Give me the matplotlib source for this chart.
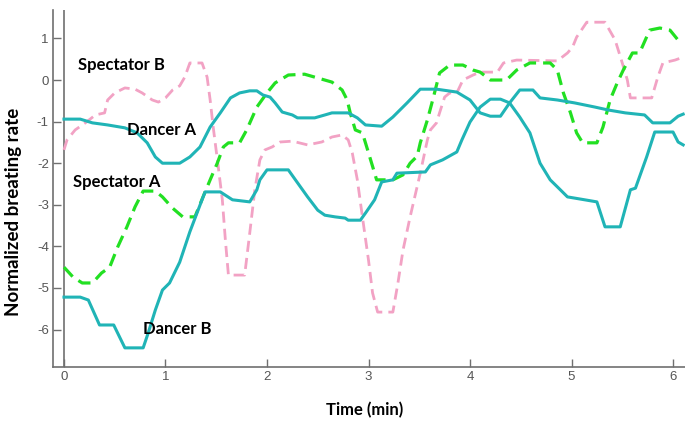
import matplotlib.pyplot as plt

# Time (min) and normalized breathing rate for each trace
t_dancer_a = [0.00, 0.16, 0.28, 0.43, 0.60, 0.72, 0.82, 0.90, 0.97, 1.14, 1.24, 1.34, 1.44, 1.54,
              1.64, 1.73, 1.83, 1.90, 1.96, 2.03, 2.08, 2.15, 2.25, 2.30, 2.47, 2.57, 2.64, 2.80,
              2.89, 2.97, 3.13, 3.24, 3.38, 3.51, 3.67, 3.87, 4.00, 4.10, 4.20, 4.30, 4.39, 4.49,
              4.62, 4.69, 4.86, 5.03, 5.23, 5.36, 5.53, 5.72, 5.80, 5.97, 6.05, 6.10]
v_dancer_a = [-0.94, -0.94, -1.03, -1.08, -1.15, -1.27, -1.51, -1.85, -2.00, -2.00, -1.85, -1.61,
              -1.13, -0.79, -0.43, -0.31, -0.26, -0.26, -0.36, -0.41, -0.55, -0.77, -0.84, -0.91,
              -0.91, -0.84, -0.79, -0.79, -0.91, -1.08, -1.11, -0.89, -0.55, -0.22, -0.22, -0.29,
              -0.48, -0.79, -0.87, -0.87, -0.55, -0.24, -0.24, -0.43, -0.48, -0.55, -0.65, -0.72,
              -0.79, -0.84, -1.03, -1.03, -0.87, -0.82]

t_dancer_b = [0.00, 0.16, 0.24, 0.35, 0.49, 0.60, 0.78, 0.83, 0.90, 0.97, 1.04, 1.14, 1.24, 1.31,
              1.36, 1.39, 1.54, 1.66, 1.83, 1.90, 1.93, 2.00, 2.21, 2.28, 2.40, 2.50, 2.57, 2.67,
              2.77, 2.80, 2.92, 2.97, 3.06, 3.13, 3.24, 3.28, 3.56, 3.61, 3.73, 3.87, 3.92, 4.00,
              4.10, 4.20, 4.30, 4.39, 4.49, 4.59, 4.69, 4.79, 4.89, 4.96, 5.13, 5.25, 5.33, 5.48,
              5.58, 5.63, 5.74, 5.82, 6.00, 6.05, 6.10]
v_dancer_b = [-5.22, -5.22, -5.29, -5.89, -5.89, -6.44, -6.44, -6.08, -5.53, -5.05, -4.88, -4.38,
              -3.65, -3.20, -2.88, -2.69, -2.69, -2.88, -2.93, -2.64, -2.40, -2.16, -2.16, -2.40,
              -2.81, -3.13, -3.25, -3.29, -3.32, -3.37, -3.37, -3.20, -2.88, -2.45, -2.40, -2.24,
              -2.21, -2.04, -1.92, -1.73, -1.44, -1.01, -0.65, -0.46, -0.46, -0.55, -0.89, -1.27,
              -2.00, -2.40, -2.64, -2.81, -2.88, -2.93, -3.53, -3.53, -2.64, -2.60, -1.85, -1.25,
              -1.25, -1.49, -1.56]

t_spect_a = [0.00, 0.09, 0.18, 0.28, 0.37, 0.45, 0.53, 0.62, 0.70, 0.78, 0.90, 0.97, 1.07, 1.17,
             1.29, 1.37, 1.44, 1.51, 1.57, 1.62, 1.73, 1.80, 1.90, 2.00, 2.08, 2.21, 2.37, 2.47,
             2.64, 2.74, 2.79, 2.82, 2.87, 2.94, 3.00, 3.08, 3.24, 3.34, 3.41, 3.48, 3.51, 3.58,
             3.64, 3.70, 3.80, 3.93, 4.03, 4.10, 4.20, 4.36, 4.46, 4.59, 4.79, 4.86, 4.92, 4.99,
             5.05, 5.11, 5.25, 5.31, 5.38, 5.45, 5.51, 5.60, 5.67, 5.77, 5.87, 5.97, 6.05, 6.10]
v_spect_a = [-4.50, -4.74, -4.88, -4.88, -4.64, -4.50, -4.01, -3.53, -3.05, -2.67, -2.67, -2.81,
             -3.08, -3.29, -3.29, -2.81, -2.40, -2.00, -1.61, -1.51, -1.51, -1.20, -0.65, -0.31,
             -0.07, 0.12, 0.14, 0.07, -0.05, -0.24, -0.48, -0.79, -1.20, -1.27, -1.75, -2.40,
             -2.40, -2.28, -2.00, -1.83, -1.51, -0.96, -0.41, 0.17, 0.36, 0.36, 0.24, 0.19, 0.00,
             0.00, 0.24, 0.41, 0.41, 0.24, -0.31, -0.79, -1.27, -1.51, -1.51, -1.13, -0.48, -0.07,
             0.24, 0.65, 0.65, 1.20, 1.25, 1.20, 0.96, 0.91]

t_spect_b = [0.00, 0.03, 0.11, 0.21, 0.31, 0.40, 0.43, 0.50, 0.60, 0.70, 0.77, 0.87, 0.93, 1.00,
             1.07, 1.14, 1.19, 1.24, 1.36, 1.41, 1.44, 1.47, 1.52, 1.56, 1.59, 1.62, 1.78, 1.83,
             1.88, 1.93, 1.98, 2.05, 2.13, 2.25, 2.40, 2.54, 2.64, 2.74, 2.80, 2.84, 2.89, 2.94,
             3.00, 3.04, 3.09, 3.24, 3.29, 3.34, 3.41, 3.51, 3.58, 3.61, 3.67, 3.70, 3.75, 3.80,
             3.87, 3.93, 4.03, 4.10, 4.27, 4.33, 4.46, 4.86, 4.96, 5.01, 5.05, 5.15, 5.33, 5.43,
             5.50, 5.55, 5.58, 5.79, 5.85, 5.90, 6.02, 6.10]
v_spect_b = [-1.68, -1.44, -1.20, -1.03, -0.84, -0.79, -0.48, -0.31, -0.19, -0.22, -0.31, -0.48,
             -0.53, -0.43, -0.24, -0.14, 0.07, 0.41, 0.41, 0.07, -0.48, -1.13, -2.09, -2.88, -3.85,
             -4.69, -4.69, -3.68, -2.64, -1.92, -1.68, -1.61, -1.49, -1.47, -1.56, -1.49, -1.37,
             -1.32, -1.44, -1.75, -2.40, -3.29, -4.33, -5.12, -5.58, -5.58, -4.88, -4.09, -3.29,
             -2.24, -1.44, -1.20, -1.03, -0.79, -0.41, -0.31, -0.31, 0.00, 0.12, 0.19, 0.19, 0.41,
             0.48, 0.46, 0.65, 0.79, 1.03, 1.39, 1.39, 0.96, 0.41, 0.00, -0.43, -0.43, 0.07, 0.41,
             0.48, 0.55]

x_ticks = [0, 1, 2, 3, 4, 5, 6]
y_ticks = [-6, -5, -4, -3, -2, -1, 0, 1]

plt.rcParams['axes.unicode_minus'] = False
plt.rcParams['font.family'] = ['Liberation Sans', 'DejaVu Sans']

teal = '#20b4b6'
green = '#22e022'
pink = '#f2a2c4'
grey = '#707070'

fig = plt.figure(figsize=(6.85, 4.23), dpi=100)
ax = fig.add_axes([0.0774, 0.1324, 0.9226, 0.8436])

ax.plot(t_spect_b, v_spect_b, color=pink, lw=2.0, dashes=(4, 2.2))
ax.plot(t_spect_a, v_spect_a, color=green, lw=2.3, dashes=(4, 2.2))
ax.plot(t_dancer_a, v_dancer_a, color=teal, lw=2.2)
ax.plot(t_dancer_b, v_dancer_b, color=teal, lw=2.2)

ax.axvline(0, color=grey, lw=1.2, zorder=0)

ax.set_xlim(-0.108, 6.118)
ax.set_ylim(-6.90, 1.68)
ax.set_xticks(x_ticks)
ax.set_yticks(y_ticks)
ax.tick_params(direction='in', length=6, width=1, color=grey, labelcolor='#555555',
               labelsize=9.5)
ax.tick_params(axis='y', pad=3)
ax.tick_params(axis='x', pad=3)

for side in ['top', 'right']:
    ax.spines[side].set_visible(False)
for side in ['left', 'bottom']:
    ax.spines[side].set_color(grey)
    ax.spines[side].set_linewidth(1.2)

lab = dict(family='Lato', fontsize=12, fontweight='bold', color='black')
ax.text(0.14, 0.36, 'Spectator B', va='center', ha='left', **lab)
ax.text(0.62, -1.20, 'Dancer A', va='center', ha='left', **lab)
ax.text(0.09, -2.45, 'Spectator A', va='center', ha='left', **lab)
ax.text(0.78, -5.99, 'Dancer B', va='center', ha='left', **lab)

fig.text(365 / 685, 1 - 410 / 423, 'Time (min)', ha='center', va='center',
         family='Lato', fontsize=12, fontweight='bold')
fig.text(14 / 685, 1 - 212 / 423, 'Normalized breating rate', ha='center', va='center',
         rotation=90, family='Lato', fontsize=13.5, fontweight='bold')

fig.savefig('out.png', dpi=100)
